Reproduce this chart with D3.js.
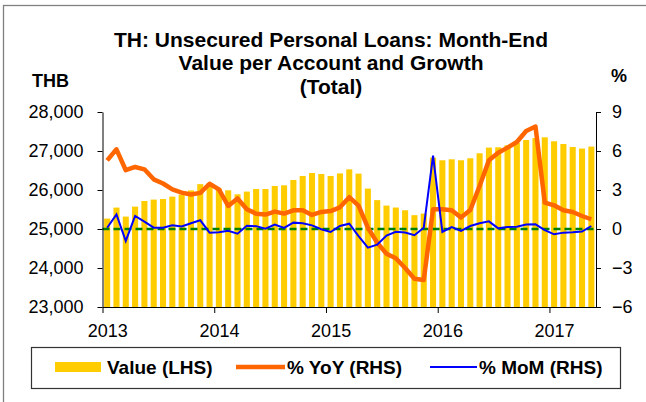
<!DOCTYPE html>
<html lang="en">
<head>
    <meta charset="UTF-8">
    <title>TH: Unsecured Personal Loans</title>
    <script src="https://d3js.org/d3.v7.min.js"></script>
    <style>
        body { margin: 0; background: #fff; }
        svg { display: block; font-family: "Liberation Sans", Arial, sans-serif; }
        .axis text { font-size: 18px; fill: #000; }
        .axis path, .axis line { stroke: #000; stroke-width: 1; }
    </style>
</head>
<body>
    <div id="chart"></div>
    <script type="text/javascript">
        // monthly data, Jan 2013 .. May 2017
        const months = d3.range(53).map(i => (2013 + Math.floor(i / 12)) + "-" + (i % 12 + 1));
        const yearLabels = ["2013", "2014", "2015", "2016", "2017"];

        const valueLHS = [
            25267, 25549, 25318, 25574, 25718, 25754, 25770, 25830, 25880, 25990, 26150, 26170,
            26036, 25992, 25890, 25959, 26026, 26026, 26103, 26120, 26257, 26360, 26436, 26410,
            26360, 26425, 26530, 26420, 26036, 25740, 25600, 25550, 25480, 25355, 25395, 26830,
            26762, 26787, 26762, 26813, 26941, 27087, 27095, 27146, 27215, 27282, 27330, 27351,
            27249, 27180, 27103, 27062, 27113
        ];
        const yoyRHS = [
            5.28, 6.13, 4.52, 4.77, 4.59, 3.82, 3.5, 3.05, 2.8, 2.65, 2.78, 3.48,
            3.05, 1.77, 2.35, 1.52, 1.18, 1.11, 1.34, 1.18, 1.44, 1.44, 1.08, 1.31,
            1.38, 1.67, 2.45, 1.8, 0.1, -1.05, -1.9, -2.25, -3.0, -3.82, -3.92, 1.52,
            1.52, 1.44, 0.88, 1.46, 3.31, 5.28, 5.87, 6.26, 6.69, 7.54, 7.88, 2.03,
            1.82, 1.44, 1.31, 1.0, 0.75
        ];
        const momRHS = [
            0.1, 1.13, -0.92, 1.0, 0.57, 0.1, 0.1, 0.28, 0.2, 0.44, 0.67, -0.28,
            -0.25, -0.14, -0.36, 0.25, 0.22, 0.03, 0.34, 0.08, 0.49, 0.44, 0.28, -0.02,
            -0.23, 0.23, 0.41, -0.54, -1.43, -1.2, -0.5, -0.22, -0.27, -0.48, 0.1, 5.65,
            -0.23, 0.14, -0.15, 0.23, 0.44, 0.59, 0.05, 0.15, 0.18, 0.34, 0.36, -0.08,
            -0.41, -0.28, -0.25, -0.2, 0.23
        ];
        const leftTicks = [23000, 24000, 25000, 26000, 27000, 28000];
        const rightTicks = [-6, -3, 0, 3, 6, 9];
        const titleLines = ["TH: Unsecured Personal Loans: Month-End", "Value per Account and Growth", "(Total)"];
        const legendItems = ["Value (LHS)", "% YoY (RHS)", "% MoM (RHS)"];

        const W = 646, H = 402;
        const plotL = 102.5, plotR = 596, plotT = 112, plotB = 307;

        const svg = d3.select("#chart").append("svg")
            .attr("width", W)
            .attr("height", H);

        // outer frame
        svg.append("rect")
            .attr("x", 3.5).attr("y", 5.5)
            .attr("width", 700).attr("height", 500)
            .attr("fill", "none").attr("stroke", "#808080").attr("stroke-width", 1.3);

        const x = d3.scaleBand().domain(months).range([plotL, plotR])
            .paddingInner(0.35).paddingOuter(0.175);
        const xIdx = d3.scaleLinear().domain([0, months.length]).range([plotL, plotR]);
        const yL = d3.scaleLinear().domain([23000, 28000]).range([plotB, plotT]);
        const yR = d3.scaleLinear().domain([-6, 9]).range([plotB, plotT]);

        // bars
        svg.selectAll(".bar")
            .data(valueLHS)
            .enter().append("rect")
            .attr("class", "bar")
            .attr("x", (d, i) => x(months[i]))
            .attr("width", x.bandwidth())
            .attr("y", d => yL(d))
            .attr("height", d => yL(23000) - yL(d))
            .attr("fill", "#FFCC00");

        // zero line
        svg.append("line")
            .attr("x1", plotL).attr("x2", plotR)
            .attr("y1", yR(0)).attr("y2", yR(0))
            .attr("stroke", "#008000").attr("stroke-width", 2.5)
            .attr("stroke-dasharray", "7,4");

        const cx = i => x(months[i]) + x.bandwidth() / 2;

        svg.append("path")
            .datum(yoyRHS)
            .attr("fill", "none")
            .attr("stroke", "#FF6600")
            .attr("stroke-width", 4.5)
            .attr("stroke-linejoin", "round")
            .attr("d", d3.line().x((d, i) => cx(i)).y(d => yR(d)));

        svg.append("path")
            .datum(momRHS)
            .attr("fill", "none")
            .attr("stroke", "#0000FF")
            .attr("stroke-width", 2)
            .attr("d", d3.line().x((d, i) => cx(i)).y(d => yR(d)));

        // axes
        svg.append("g").attr("class", "axis")
            .attr("transform", "translate(" + plotL + ",0)")
            .call(d3.axisLeft(yL).tickValues(leftTicks).tickSize(5).tickSizeOuter(0).tickPadding(14)
                .tickFormat(d3.format(",")));

        svg.append("g").attr("class", "axis")
            .attr("transform", "translate(" + plotR + ",0)")
            .call(d3.axisRight(yR).tickValues(rightTicks).tickSize(5).tickSizeOuter(0).tickPadding(11));

        const xAxis = svg.append("g").attr("class", "axis")
            .attr("transform", "translate(0," + plotB + ")")
            .call(d3.axisBottom(xIdx).tickValues([0, 12, 24, 36, 48]).tickSize(6).tickSizeOuter(0).tickPadding(11)
                .tickFormat((d, i) => yearLabels[i]));
        xAxis.selectAll("text").attr("dx", x.step() / 2);

        // titles
        const title = svg.append("text")
            .attr("text-anchor", "middle")
            .style("font-size", "21px").style("font-weight", "bold");
        titleLines.forEach((t, i) => {
            title.append("tspan").attr("x", 331).attr("y", 47 + i * 23.3).text(t);
        });

        svg.append("text").attr("x", 32).attr("y", 86.5)
            .style("font-size", "18px").style("font-weight", "bold").text("THB");
        svg.append("text").attr("x", 611).attr("y", 82)
            .style("font-size", "18px").style("font-weight", "bold").text("%");

        // legend
        const lg = svg.append("g");
        lg.append("rect")
            .attr("x", 31.5).attr("y", 347.5).attr("width", 589).attr("height", 41)
            .attr("fill", "#fff").attr("stroke", "#333").attr("stroke-width", 1.2);
        lg.append("rect").attr("x", 55).attr("y", 362).attr("width", 46).attr("height", 10).attr("fill", "#FFCC00");
        lg.append("line").attr("x1", 236).attr("x2", 285).attr("y1", 367).attr("y2", 367)
            .attr("stroke", "#FF6600").attr("stroke-width", 4.5);
        lg.append("line").attr("x1", 430).attr("x2", 477).attr("y1", 367).attr("y2", 367)
            .attr("stroke", "#0000FF").attr("stroke-width", 2);
        [107, 287, 479].forEach((lx, i) => {
            lg.append("text").attr("x", lx).attr("y", 374)
                .style("font-size", "19px").style("font-weight", "bold")
                .text(legendItems[i]);
        });
    </script>
</body>
</html>
